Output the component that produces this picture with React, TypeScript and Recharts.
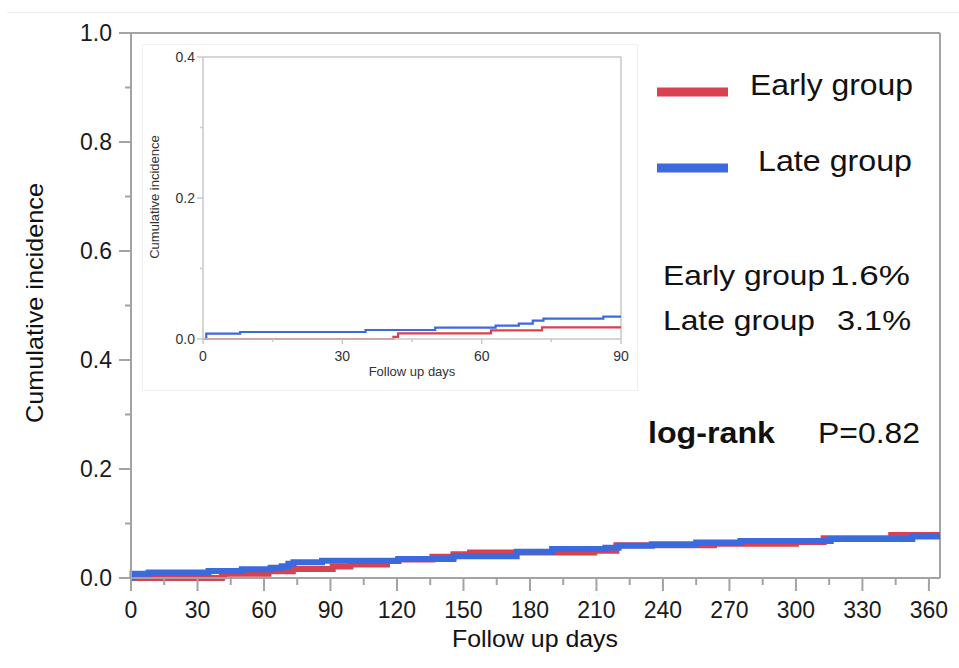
import React from 'react'
import { LineChart, Line, XAxis, YAxis, ReferenceLine } from 'recharts'

// step points (day, cumulative incidence)
const earlyDays = [0, 41, 42, 62, 73, 91, 99, 115.5, 120.6, 136, 145.5, 153, 209, 219, 263, 300, 312.5, 343, 365]
const earlyValues = [0, 0.003, 0.008, 0.0123, 0.0165, 0.021, 0.025, 0.031, 0.034, 0.039, 0.0435, 0.047, 0.05, 0.06, 0.063, 0.066, 0.073, 0.079, 0.079]

const lateDays = [0, 0.7, 8, 35, 50, 63, 68, 71, 73.3, 86.2, 120.6, 145.5, 174, 190, 214, 220, 235, 255, 275, 315.7, 352.5, 365]
const lateValues = [0, 0.0076, 0.0099, 0.0128, 0.016, 0.019, 0.0217, 0.026, 0.0288, 0.0317, 0.035, 0.04, 0.048, 0.053, 0.0556, 0.059, 0.062, 0.065, 0.068, 0.0716, 0.076, 0.076]

const mainXTicks = [0, 15, 30, 45, 60, 75, 90, 105, 120, 135, 150, 165, 180, 195, 210, 225, 240, 255, 270, 285, 300, 315, 330, 345, 360]
const mainYTicks = [0, 0.1, 0.2, 0.3, 0.4, 0.5, 0.6, 0.7, 0.8, 0.9, 1]
const insetXTicks = [0, 15, 30, 45, 60, 75, 90]
const insetYTicks = [0, 0.1, 0.2, 0.3, 0.4]

const RED = '#d8414f'
const BLUE = '#3b69de'
const AXIS = '#a3a3a3'
const INSET_AXIS = '#c9c9c9'
const FONT = '"Liberation Sans", Arial, Helvetica, sans-serif'

const toSeries = (days: number[], values: number[]) => days.map((day, i) => ({ day, value: values[i] }))
const earlySeries = toSeries(earlyDays, earlyValues)
const lateSeries = toSeries(lateDays, lateValues)

// the inset only shows the first 90 days
const clip = (series: { day: number; value: number }[], end: number) => {
  const kept = series.filter(p => p.day <= end)
  return [...kept, { day: end, value: kept[kept.length - 1].value }]
}
const earlyInset = clip(earlySeries, 90)
const lateInset = clip(lateSeries, 90)

const mainXTick = (props: any) => {
  const { x, y, payload } = props
  const major = payload.value % 30 === 0
  return (
    <g>
      <line x1={x} x2={x} y1={y} y2={y + (major ? 13 : 7)} stroke={AXIS} strokeWidth={2} />
      {major && (
        <text x={x} y={y + 40} textAnchor="middle" fontSize={23} fill="#1a1a1a" fontFamily={FONT}>
          {payload.value}
        </text>
      )}
    </g>
  )
}

const mainYTick = (props: any) => {
  const { x, y, payload, index } = props
  const major = index % 2 === 0
  return (
    <g>
      <line x1={x - (major ? 12 : 6)} x2={x} y1={y} y2={y} stroke={AXIS} strokeWidth={2} />
      {major && (
        <text x={x - 19} y={y + 8} textAnchor="end" fontSize={23} fill="#1a1a1a" fontFamily={FONT}>
          {payload.value.toFixed(1)}
        </text>
      )}
    </g>
  )
}

const insetXTick = (props: any) => {
  const { x, y, payload } = props
  const major = payload.value % 30 === 0
  return (
    <g>
      <line x1={x} x2={x} y1={y} y2={y + (major ? 5 : 3)} stroke={INSET_AXIS} strokeWidth={1.5} />
      {major && (
        <text x={x} y={y + 22} textAnchor="middle" fontSize={14} fill="#333" fontFamily={FONT}>
          {payload.value}
        </text>
      )}
    </g>
  )
}

const insetYTick = (props: any) => {
  const { x, y, payload, index } = props
  const major = index % 2 === 0
  return (
    <g>
      <line x1={x - (major ? 6 : 3)} x2={x} y1={y} y2={y} stroke={INSET_AXIS} strokeWidth={1.5} />
      {major && (
        <text x={x - 8} y={y + 5} textAnchor="end" fontSize={14} fill="#333" fontFamily={FONT}>
          {payload.value.toFixed(1)}
        </text>
      )}
    </g>
  )
}

// text stretched to the width it has in the picture
const Txt = ({ x, y, w, size, bold, anchor, children }: any) => (
  <text
    x={x}
    y={y}
    fontSize={size}
    fontWeight={bold ? 'bold' : 'normal'}
    textAnchor={anchor || 'start'}
    textLength={w}
    lengthAdjust="spacingAndGlyphs"
    fill="#111"
  >
    {children}
  </text>
)

export default function App() {
  return (
    <div style={{ position: 'absolute', left: 0, top: 0, width: 959, height: 668, background: '#fff', fontFamily: FONT }}>
      <div style={{ position: 'absolute', left: 7, right: 0, top: 12, height: 1, background: '#eeeeee' }} />

      <div style={{ position: 'absolute', left: 0, top: 0 }}>
        <LineChart width={959} height={668} margin={{ top: 33, right: 19, left: 0, bottom: 0 }}>
          <XAxis
            dataKey="day"
            type="number"
            domain={[0, 365]}
            ticks={mainXTicks}
            interval={0}
            height={90}
            tickSize={0}
            tickMargin={0}
            tickLine={false}
            axisLine={{ stroke: AXIS, strokeWidth: 2 }}
            tick={mainXTick}
          />
          <YAxis
            dataKey="value"
            type="number"
            domain={[0, 1]}
            ticks={mainYTicks}
            interval={0}
            width={131}
            tickSize={0}
            tickMargin={0}
            tickLine={false}
            axisLine={{ stroke: AXIS, strokeWidth: 2 }}
            tick={mainYTick}
          />
          <ReferenceLine y={1} stroke={AXIS} strokeWidth={2} />
          <ReferenceLine x={365} stroke={AXIS} strokeWidth={2} />
          <Line data={earlySeries} dataKey="value" type="stepAfter" stroke={RED} strokeWidth={6} dot={false} activeDot={false} isAnimationActive={false} />
          <Line data={lateSeries} dataKey="value" type="stepAfter" stroke={BLUE} strokeWidth={6} dot={false} activeDot={false} isAnimationActive={false} />
        </LineChart>
      </div>

      {/* inset: first 90 days, y up to 0.4 */}
      <div style={{ position: 'absolute', left: 143, top: 45, width: 494, height: 345, background: '#fff', outline: '1px solid #f0f0f0' }}>
        <LineChart width={494} height={345} margin={{ top: 12, right: 16, left: 0, bottom: 0 }}>
          <XAxis
            dataKey="day"
            type="number"
            domain={[0, 90]}
            ticks={insetXTicks}
            interval={0}
            height={51}
            tickSize={0}
            tickMargin={0}
            tickLine={false}
            axisLine={{ stroke: INSET_AXIS, strokeWidth: 1.5 }}
            tick={insetXTick}
          />
          <YAxis
            dataKey="value"
            type="number"
            domain={[0, 0.4]}
            ticks={insetYTicks}
            interval={0}
            width={60}
            tickSize={0}
            tickMargin={0}
            tickLine={false}
            axisLine={{ stroke: INSET_AXIS, strokeWidth: 1.5 }}
            tick={insetYTick}
          />
          <ReferenceLine y={0.4} stroke={INSET_AXIS} strokeWidth={1.5} />
          <ReferenceLine x={90} stroke={INSET_AXIS} strokeWidth={1.5} />
          <Line data={earlyInset} dataKey="value" type="stepAfter" stroke={RED} strokeWidth={2.2} dot={false} activeDot={false} isAnimationActive={false} />
          <Line data={lateInset} dataKey="value" type="stepAfter" stroke={BLUE} strokeWidth={2.2} dot={false} activeDot={false} isAnimationActive={false} />
        </LineChart>
      </div>

      {/* titles, legend and annotations */}
      <svg width={959} height={668} style={{ position: 'absolute', left: 0, top: 0, pointerEvents: 'none' }} fontFamily={FONT}>
        <g transform="translate(43,303) rotate(-90)">
          <Txt x={0} y={0} w={240} size={24} anchor="middle">Cumulative incidence</Txt>
        </g>
        <Txt x={535} y={647} w={166} size={24} anchor="middle">Follow up days</Txt>

        <text transform="translate(159,197) rotate(-90)" textAnchor="middle" fontSize={13} fill="#333">Cumulative incidence</text>
        <text x={412} y={376} textAnchor="middle" fontSize={13} fill="#333">Follow up days</text>

        <line x1={657} x2={728} y1={92} y2={92} stroke={RED} strokeWidth={9} />
        <Txt x={750} y={95} w={163} size={30}>Early group</Txt>
        <line x1={657} x2={728} y1={168} y2={168} stroke={BLUE} strokeWidth={9} />
        <Txt x={758} y={171} w={154} size={30}>Late group</Txt>

        <Txt x={663} y={285} w={162} size={28}>Early group</Txt>
        <Txt x={830} y={285} w={80} size={28}>1.6%</Txt>
        <Txt x={663} y={330} w={152} size={28}>Late group</Txt>
        <Txt x={837} y={330} w={74} size={28}>3.1%</Txt>

        <Txt x={648} y={443} w={127} size={29} bold>log-rank</Txt>
        <Txt x={818} y={443} w={102} size={29}>P=0.82</Txt>
      </svg>
    </div>
  )
}
